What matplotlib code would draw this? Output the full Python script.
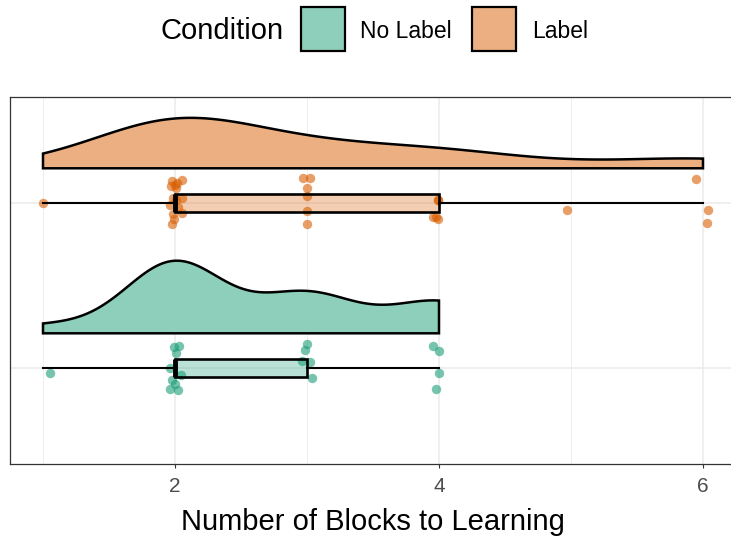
import numpy as np
import matplotlib
matplotlib.use("Agg")
from matplotlib import pyplot as plt
from matplotlib.patches import Rectangle

plt.rcParams['font.family'] = ['Liberation Sans', 'DejaVu Sans']

# blocks-to-learning per participant, with the jittered plotting positions
conditions = ["No Label", "Label"]
colors = {"No Label": "#1B9E77", "Label": "#D95F02"}
centers = {"No Label": 1, "Label": 2}

blocks = {
    "No Label": [1] + [2] * 9 + [3] * 5 + [4] * 4,
    "Label": [1] + [2] * 15 + [3] * 6 + [4] * 5 + [5] + [6] * 3,
}

jit_x = {
    "No Label": [1.05,
                 1.99, 2.03, 2.01, 1.96, 1.975, 2.045, 1.96, 2.02, 2.00,
                 3.00, 2.985, 2.96, 3.02, 3.035,
                 3.955, 4.00, 4.00, 3.975],
    "Label": [1.00,
              1.975, 2.05, 2.00, 2.01, 1.985, 2.05, 1.96, 2.05, 1.99, 1.98,
              2.015, 2.02, 2.01, 1.985, 1.97,
              2.97, 3.02, 3.00, 3.00, 3.00, 3.00,
              3.995, 3.955, 3.995, 3.98, 3.99,
              4.97,
              5.95, 6.04, 6.03],
}

jit_y = {
    "No Label": [-0.03,
                 0.13, 0.135, 0.09, 0.0, -0.075, -0.045, -0.125, -0.135, -0.10,
                 0.145, 0.11, 0.045, 0.035, -0.06,
                 0.135, 0.10, -0.03, -0.13],
    "Label": [0.0,
              0.13, 0.14, 0.11, 0.09, 0.03, 0.03, -0.01, -0.06, -0.10, -0.13,
              0.12, -0.025, 0.02, -0.07, 0.10,
              0.15, 0.15, 0.09, 0.04, -0.05, -0.13,
              0.02, -0.085, -0.095, -0.085, 0.02,
              -0.04,
              0.145, -0.04, -0.12],
}


def kde_nrd0(vals, grid):
    vals = np.asarray(vals, dtype=float)
    n = len(vals)
    iqr = np.subtract(*np.percentile(vals, [75, 25]))
    lo = min(vals.std(ddof=1), iqr / 1.34)
    bw = 0.9 * lo * n ** (-0.2)
    z = (grid[:, None] - vals[None, :]) / bw
    return np.exp(-0.5 * z ** 2).sum(axis=1) / (n * bw * np.sqrt(2 * np.pi))


def blend(hex_color, alpha):
    rgb = np.array(matplotlib.colors.to_rgb(hex_color))
    return tuple(alpha * rgb + (1 - alpha) * np.ones(3))


fig = plt.figure(figsize=(7.31, 5.39), dpi=100)
ax = fig.add_axes([10 / 731, 1 - 464 / 539, 726 / 731, 367 / 539])

# half-violins (trimmed kde), scaled so the tallest reaches max_height
grids, dens = {}, {}
for cond in conditions:
    v = blocks[cond]
    grids[cond] = np.linspace(min(v), max(v), 512)
    dens[cond] = kde_nrd0(v, grids[cond])
max_height = 0.44
peak = max(d.max() for d in dens.values())
base_off = 0.21

for cond in conditions:
    g = grids[cond]
    base = centers[cond] + base_off
    top = base + dens[cond] / peak * max_height
    xs = np.concatenate([[g[0]], g, [g[-1], g[0]]])
    ys = np.concatenate([[base], top, [base, base]])
    ax.fill(xs, ys, facecolor=blend(colors[cond], 0.5), edgecolor="black",
            linewidth=1.8, zorder=3, joinstyle="miter")

# raw points
for cond in conditions:
    ax.scatter(jit_x[cond], np.array(jit_y[cond]) + centers[cond],
               s=46, color=colors[cond], alpha=0.6, linewidths=0, zorder=2)

# boxplots
for cond in conditions:
    ax.boxplot([blocks[cond]], positions=[centers[cond]], widths=0.105,
               orientation="horizontal", patch_artist=True, showcaps=False,
               showfliers=False, manage_ticks=False, zorder=4,
               boxprops=dict(facecolor=matplotlib.colors.to_rgba(colors[cond], 0.3),
                             edgecolor="black", linewidth=1.9),
               whiskerprops=dict(color="black", linewidth=1.5),
               medianprops=dict(color="black", linewidth=3.5, solid_capstyle="butt"))

ax.set_xlim(0.75, 6.25)
ax.set_ylim(0.418, 2.642)
ax.set_xticks([2, 4, 6])
ax.set_xticks([1, 3, 5], minor=True)
ax.set_yticks([1, 2])
ax.set_yticklabels([])
ax.tick_params(axis="y", length=0)
ax.tick_params(axis="x", which="major", length=3, width=0.8, color="#333333",
               labelsize=15, labelcolor="#4D4D4D", pad=6)
ax.tick_params(axis="x", which="minor", length=0)
ax.grid(True, which="major", color="#EBEBEB", linewidth=1.1, zorder=0)
ax.grid(True, which="minor", axis="x", color="#EBEBEB", linewidth=0.6, zorder=0)
ax.set_axisbelow(True)
for sp in ax.spines.values():
    sp.set_color("#333333")
    sp.set_linewidth(0.9)

ax.set_xlabel("Number of Blocks to Learning", fontsize=21, labelpad=9)

# legend along the top
fig.text(160 / 731, 1 - 31 / 539, "Condition", fontsize=21, va="center", ha="left")
for cond, kx, tx in [("No Label", 301, 360), ("Label", 472, 532)]:
    fig.add_artist(Rectangle((kx / 731, 1 - 51 / 539), 44 / 731, 44 / 539,
                             transform=fig.transFigure,
                             facecolor=blend(colors[cond], 0.5),
                             edgecolor="black", linewidth=1.6))
    fig.text(tx / 731, 1 - 31 / 539, cond, fontsize=16.5, va="center", ha="left")

fig.savefig("out.png", dpi=100)
